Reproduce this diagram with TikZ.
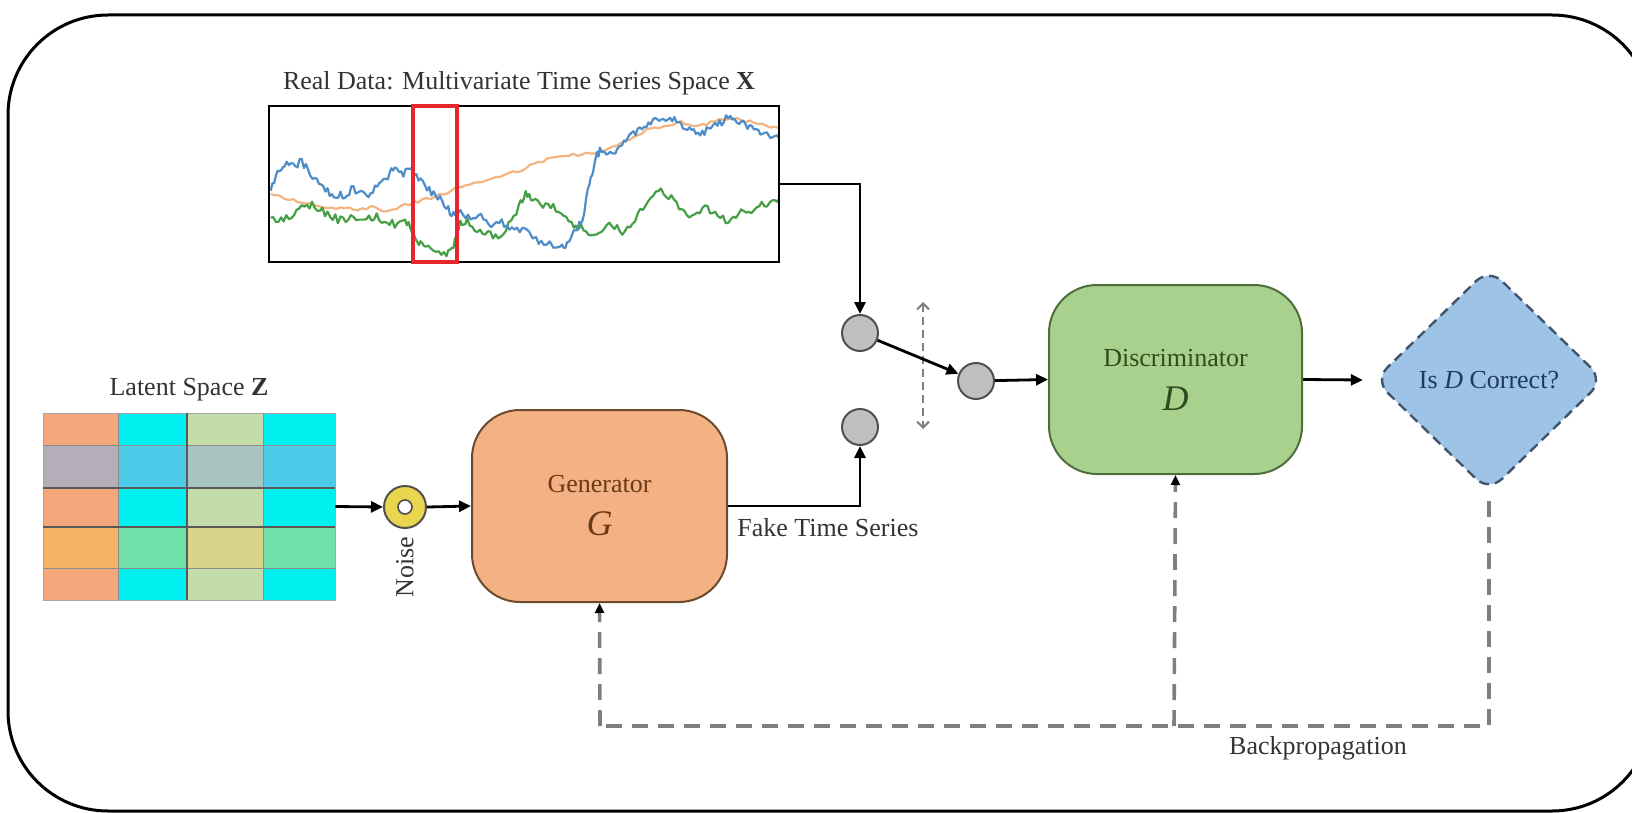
\documentclass[tikz,border=0pt]{standalone}
\usepackage{fontspec}
\setmainfont{Liberation Serif}
\usetikzlibrary{arrows.meta,shapes.geometric,calc}

% box and symbol colours
\definecolor{genfill}{HTML}{F4B183}
\definecolor{gendraw}{HTML}{6B4A2E}
\definecolor{gentext}{HTML}{6B3A18}
\definecolor{disfill}{HTML}{A9D18E}
\definecolor{disdraw}{HTML}{4E6E3A}
\definecolor{distext}{HTML}{2E4D1E}
\definecolor{qfill}{HTML}{9DC3E6}
\definecolor{qdraw}{HTML}{44546A}
\definecolor{qtext}{HTML}{1F3864}
\definecolor{bpgray}{HTML}{7F7F7F}
\definecolor{knob}{HTML}{BFBFBF}
\definecolor{knobdraw}{HTML}{505050}
\definecolor{noisefill}{HTML}{EAD64E}
\definecolor{txt}{HTML}{333333}
% series colours
\definecolor{tsblue}{HTML}{4F8DC9}
\definecolor{tsorange}{HTML}{F2B582}
\definecolor{tsgreen}{HTML}{45A045}
\definecolor{winred}{HTML}{E8242C}
% latent cell colours
\definecolor{cOr}{HTML}{F4A77A}
\definecolor{cGy}{HTML}{B4AEB8}
\definecolor{cOy}{HTML}{F5B464}
\definecolor{cCy}{HTML}{00F0F0}
\definecolor{cBl}{HTML}{4CCCE8}
\definecolor{cMt}{HTML}{6EE0A8}
\definecolor{cPg}{HTML}{C4DCAA}
\definecolor{cSg}{HTML}{A8C4C0}
\definecolor{cOl}{HTML}{D8D48A}

% noisy line through waypoints: style, noise amplitude, first x, first y, remaining x/y pairs
\newcommand\tsline[5]{%
  \draw[#1] (#3,#4)
    \foreach \x/\y [remember=\x as \px (initially #3), remember=\y as \py (initially #4)] in {#5} {
      \foreach \t in {1,2,3,4} { -- ({\px+(\x-\px)*\t/4},{\py+(\y-\py)*\t/4+#2*rand}) }
    };
}

\begin{document}
\begin{tikzpicture}[x=0.5pt,y=-0.5pt,
  lbl/.style={font=\fontsize{13}{15}\selectfont, text=txt, inner sep=0pt},
  arr/.style={line width=1.4pt, -{Triangle[length=6pt,width=5.5pt]}},
  knobnode/.style={circle, draw=knobdraw, fill=knob, line width=1pt, minimum size=18pt, inner sep=0pt},
  block/.style={rectangle, rounded corners=24pt, line width=1pt, inner sep=0pt},
  bp/.style={draw=bpgray, line width=1.8pt, dash pattern=on 8pt off 5pt},
  bptip/.style={-{Triangle[length=5pt,width=4.5pt,color=black]}},
  dbl/.style={draw=bpgray, line width=1pt, dash pattern=on 4pt off 2.5pt,
    {Straight Barb[length=3pt,width=6pt]}-{Straight Barb[length=3pt,width=6pt]}},
  series/.style={line width=1.1pt, line join=round}]

\useasboundingbox (0,0) rectangle (1632,813);
\clip (0,0) rectangle (1632,813);

% outer frame
\draw[line width=1.5pt, rounded corners=50pt] (8,15) rectangle (1652,811);

% ---------- real data panel ----------
\node[lbl] (xtitle) at (519,83) {Real Data: Multivariate Time Series Space \textbf{X}};
\node[rectangle, minimum width=255pt, minimum height=78pt, inner sep=0pt] (chart) at (524,184) {};
\begin{scope}
  \clip (chart.south west) rectangle (chart.north east);
  \begin{scope}[shift={(250.05,49.55)}, xscale=0.3446, yscale=0.336]
    \pgfmathsetseed{7}
    \tsline{tsorange, series}{5}{60}{430}{%
      100/440,150/455,200/465,250/470,300/475,350/470,400/480,450/462,500/450,550/432,
      600/412,650/400,700/386,750/372,800/352,850/332,900/318,950/312,1000/306,1050/292,
      1100/266,1150/242,1200/226,1250/216,1300/226,1350/214,1400/204,1450/216,1500/226,1540/232}
    \tsline{tsgreen, series}{12}{60}{500}{%
      90/510,120/490,150/470,180/460,210/480,240/500,270/510,300/500,330/510,360/495,
      390/510,420/520,450/510,470/540,490/570,510/590,540/600,570/605,590/580,610/520,
      630/510,660/540,690/550,720/560,750/520,780/470,800/430,820/440,850/460,880/470,
      910/500,940/520,960/530,990/550,1020/540,1050/520,1080/545,1110/520,1140/470,1170/430,
      1200/420,1230/450,1260/480,1290/500,1320/470,1350/490,1380/510,1410/490,1440/480,
      1470/470,1500/460,1540/440}
    \tsline{tsblue, series}{12}{60}{420}{%
      80/370,100/340,125/345,150/335,175/370,200/400,225/420,250/440,275/430,300/415,
      325/425,350/430,375/400,400/380,420/345,445/370,470/360,495/390,520/420,545/440,
      570/470,590/495,610/480,640/500,670/495,700/520,730/510,760/540,790/535,830/570,
      860/575,900/590,920/580,945/540,965/500,985/400,1000/330,1015/300,1040/310,1060/300,
      1080/280,1100/260,1125/240,1150/220,1175/215,1200/200,1225/210,1250/220,1275/240,
      1300/250,1325/240,1350/230,1375/210,1400/200,1425/215,1450/230,1475/240,1500/250,1540/270}
  \end{scope}
\end{scope}
\draw[line width=1pt] (chart.south west) rectangle (chart.north east);
\node[rectangle, draw=winred, line width=1.6pt, minimum width=22pt, minimum height=78pt, inner sep=0pt] (win) at (435,184) {};

% ---------- switch ----------
\node[knobnode] (c1) at (860,333) {};
\node[knobnode] (c2) at (860,427) {};
\node[knobnode] (c3) at (976,381) {};
\coordinate (dtop) at (923,302);
\coordinate (dbot) at (923,429);
\draw[dbl] (dtop) -- (dbot);

% ---------- discriminator and decision ----------
\node[block, fill=disfill, draw=disdraw, minimum width=126.5pt, minimum height=94.5pt] (D) at (1175.5,379.5) {};
\node[lbl, text=distext] (dname) at (1175.5,358) {Discriminator};
\node[inner sep=0pt, text=distext, font=\fontsize{18}{20}\selectfont\itshape] (dsym) at (1175.5,399) {D};

\node[diamond, aspect=1, minimum width=115pt, minimum height=112pt, inner sep=0pt,
  fill=qfill, draw=qdraw, line width=1.2pt, dash pattern=on 5pt off 3pt, rounded corners=9pt] (Q) at (1489,380) {};
\node[lbl, text=qtext] (qtext) at (1489,380) {Is \textit{D} Correct?};

% ---------- latent space ----------
\node[lbl] (ztitle) at (189,390) {Latent Space \textbf{Z}};
\foreach \xa/\xb/\ca/\cb/\cc/\cd/\ce in {43/118/cOr/cGy/cOr/cOy/cOr, 118/187/cCy/cBl/cCy/cMt/cCy,
    187/263/cPg/cSg/cPg/cOl/cPg, 263/335/cCy/cBl/cCy/cMt/cCy} {
  \fill[\ca] (\xa,413) rectangle (\xb,445);
  \fill[\cb] (\xa,445) rectangle (\xb,488);
  \fill[\cc] (\xa,488) rectangle (\xb,527);
  \fill[\cd] (\xa,527) rectangle (\xb,568);
  \fill[\ce] (\xa,568) rectangle (\xb,600);
}
\draw[black!35, line width=0.5pt] (43,413) rectangle (335,600);
\draw[black!45, line width=0.5pt] (118,413) -- (118,600) (263,413) -- (263,600) (43,445) -- (335,445) (43,568) -- (335,568);
\draw[black!65, line width=0.7pt] (187,413) -- (187,600) (43,488) -- (335,488) (43,527) -- (335,527);
\node[rectangle, minimum width=146pt, minimum height=93.5pt, inner sep=0pt] (Z) at (189,506.5) {};

% noise source
\node[circle, draw=knobdraw, fill=noisefill, line width=1pt, minimum size=21pt, inner sep=0pt] (N) at (405,507) {};
\node[circle, draw=knobdraw, fill=white, line width=0.8pt, minimum size=7pt, inner sep=0pt] (Nhole) at (N.center) {};
\node[lbl, rotate=90] (nlabel) at (405,567) {Noise};

% ---------- generator ----------
\node[block, fill=genfill, draw=gendraw, minimum width=127.5pt, minimum height=96pt] (G) at (599.5,506) {};
\node[lbl, text=gentext] (gname) at (599.5,484) {Generator};
\node[inner sep=0pt, text=gentext, font=\fontsize{18}{20}\selectfont\itshape] (gsym) at (599.5,524) {G};
\node[lbl, anchor=west] (fake) at (737,528) {Fake Time Series};

% ---------- forward connectors ----------
\draw[arr] (chart.east) -| (c1.north);
\draw[arr] (c1) -- (c3);
\draw[arr] (c3) -- (D.west);
\draw[arr] (D.east) -- ([xshift=-5pt]Q.west);
\draw[arr] (Z.east) -- (N.west);
\draw[arr] (N.east) -- (G.west);
\draw[arr] (G.east) -| (c2.south);

% ---------- backpropagation ----------
\coordinate (b1) at (1489,726);
\coordinate (b2) at (1174,726);
\coordinate (b3) at (600,726);
\draw[bp] ([yshift=-4pt]Q.south) -- (b1) -- (b3);
\draw[bp, bptip] (b3) -- (G.south);
\draw[bp, bptip] (b2) -- (D.south);
\node[lbl] (bplabel) at (1318,748) {Backpropagation};

\end{tikzpicture}
\end{document}
